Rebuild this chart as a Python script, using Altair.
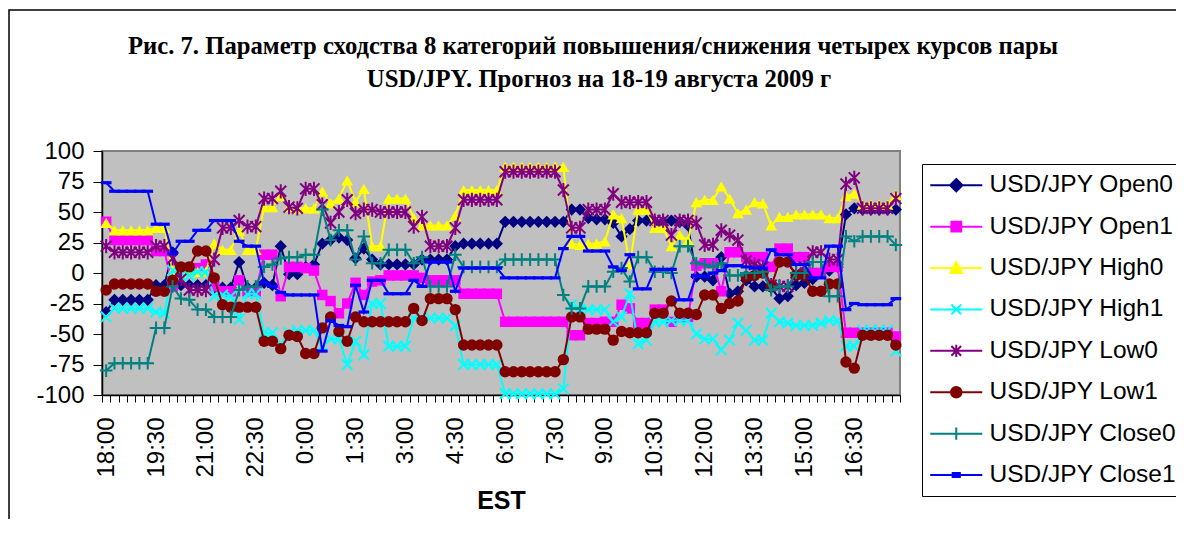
import altair as alt
import pandas as pd

series_names = ["USD/JPY Open0", "USD/JPY Open1", "USD/JPY High0", "USD/JPY High1",
                "USD/JPY Low0", "USD/JPY Low1", "USD/JPY Close0", "USD/JPY Close1"]
colors = ["#000080", "#FF00FF", "#FFFF00", "#00FFFF", "#800080", "#800000", "#008080", "#0000FF"]
tick_labels = ["18:00", "19:30", "21:00", "22:30", "0:00", "1:30", "3:00", "4:30",
               "6:00", "7:30", "9:00", "10:30", "12:00", "13:30", "15:00", "16:30"]
y_ticks = [-100, -75, -50, -25, 0, 25, 50, 75, 100]

open0 = [-32, -22, -22, -22, -22, -22, -10, -10, 17, -10,
         -10, -10, -10, -12, -12, -12, 9, -12, -12, -8,
         -10, 22, -1, -1, 5, 7, 24, 27, 29, 27,
         12, 20, 11, 7, 7, 7, 7, 7, 11, 11,
         11, 11, 22, 24, 24, 24, 24, 24, 42, 42,
         42, 42, 42, 42, 42, 42, 52, 52, 45, 44,
         44, 41, 30, 36, 43, 43, 42, 42, 43, 42,
         39, -3, -3, -6, 13, -17, -15, -6, -11, -11,
         -12, -21, -19, -10, -8, -5, 0, 2, 5, 48,
         53, 52, 52, 52, 52, 52]
open1 = [42, 27, 27, 27, 27, 27, 18, 18, -11, 1,
         0, 4, 7, -11, -15, -15, -6, -15, -15, 15,
         15, -19, 5, 5, 4, 2, -18, -23, -33, -25,
         -8, -18, -7, -6, -2, -2, -2, -2, -4, -6,
         -6, -6, -6, -17, -17, -17, -17, -17, -40, -40,
         -40, -40, -40, -40, -40, -40, -51, -51, -41, -41,
         -40, -40, -26, -29, -41, -41, -30, -30, -40, -36,
         -36, 6, 8, 8, -15, 17, 17, 13, 13, 13,
         5, 20, 20, 13, 13, 0, 0, 5, 5, -49,
         -49, -49, -49, -49, -49, -52]
high0 = [41, 35, 35, 35, 35, 35, 37, 37, 2, 0,
         0, 1, 1, 24, 19, 19, 35, 19, 19, 54,
         54, 63, 54, 53, 53, 53, 67, 57, 61, 76,
         58, 69, 22, 22, 61, 61, 61, 45, 39, 39,
         39, 39, 47, 68, 68, 68, 68, 68, 87, 87,
         87, 87, 87, 87, 87, 87, 24, 23, 24, 24,
         26, 48, 45, 7, 52, 52, 37, 37, 22, 31,
         27, 58, 60, 60, 71, 61, 49, 52, 58, 57,
         39, 46, 46, 48, 48, 48, 48, 45, 45, 63,
         65, 56, 56, 56, 56, 64]
high1 = [-36, -29, -29, -29, -29, -29, -32, -33, 2, -2,
         -2, 1, 1, -19, -18, -19, -38, -17, -17, -49,
         -49, -59, -49, -47, -47, -47, -60, -54, -54, -75,
         -56, -67, -25, -25, -60, -60, -60, -37, -37, -37,
         -37, -37, -43, -75, -75, -75, -75, -75, -99, -99,
         -99, -99, -99, -99, -99, -95, -26, -30, -30, -30,
         -30, -40, -36, -17, -58, -55, -40, -40, -39, -39,
         -39, -50, -54, -54, -63, -55, -41, -47, -55, -55,
         -33, -40, -41, -43, -43, -43, -41, -39, -39, -60,
         -60, -47, -47, -47, -47, -64]
low0 = [22, 17, 17, 17, 17, 17, 22, 22, 12, -5,
        -14, -14, -14, 11, 37, 37, 43, 38, 38, 61,
        61, 67, 54, 53, 69, 69, 56, 41, 50, 60,
        49, 52, 52, 50, 50, 50, 50, 38, 46, 22,
        22, 22, 37, 60, 60, 60, 60, 60, 83, 83,
        83, 83, 83, 83, 83, 68, 37, 37, 52, 52,
        52, 65, 58, 58, 58, 58, 43, 43, 31, 43,
        43, 41, 23, 23, 35, 31, 27, 10, 7, 5,
        -10, -11, -11, 0, 5, 17, 17, 11, 11, 73,
        78, 53, 53, 53, 53, 61]
low1 = [-14, -9, -9, -9, -9, -9, -15, -15, -6, 5,
        5, 18, 18, -4, -26, -28, -28, -28, -28, -56,
        -56, -62, -51, -52, -66, -66, -45, -36, -48, -56,
        -36, -40, -40, -40, -40, -40, -40, -29, -39, -21,
        -21, -21, -30, -59, -59, -59, -59, -59, -81, -81,
        -81, -81, -81, -81, -81, -71, -36, -36, -46, -46,
        -46, -55, -48, -49, -49, -49, -33, -33, -23, -33,
        -33, -34, -18, -18, -29, -25, -23, -3, -2, 0,
        -11, 9, 9, -2, -2, -15, -15, -9, -9, -73,
        -78, -51, -51, -51, -51, -59]
close0 = [-80, -74, -74, -74, -74, -74, -45, -45, -11, -21,
          -22, -30, -30, -36, -36, -36, -14, -11, -11, 5,
          7, 12, 13, 13, 15, 15, 52, 27, 35, 35,
          11, 30, 8, 8, 19, 19, 19, 8, 13, -11,
          -11, -11, 15, 5, 5, 5, 5, 5, 11, 11,
          11, 11, 11, 11, 11, -18, -29, -29, -11, -11,
          -11, 1, 4, -7, 13, 13, 1, 1, 0, 22,
          22, 8, 7, 5, 8, -2, -2, 0, 0, 1,
          -14, -11, -11, 0, 0, 9, 9, -19, -19, 30,
          26, 30, 30, 30, 30, 23]
close1 = [74, 67, 67, 67, 67, 67, 40, 40, 16, 26,
          26, 35, 35, 43, 43, 43, 26, 22, 22, -8,
          -11, -16, -18, -18, -18, -18, -64, -39, -43, -44,
          -10, -32, -6, -6, -17, -17, -17, -6, -11, 9,
          9, 9, -15, 4, 4, 4, 4, 4, -4, -4,
          -4, -4, -4, -4, -4, 20, 30, 30, 18, 18,
          18, 5, 2, 15, -13, -13, 3, 3, 3, -22,
          -22, -2, -3, 0, 2, 6, 6, 5, 4, 4,
          19, 15, 15, 7, 7, -4, -4, 22, 22, -30,
          -25, -26, -26, -26, -26, -21]

values_by_series = [open0, open1, high0, high1, low0, low1, close0, close1]

title_line1 = "Рис. 7. Параметр сходства 8 категорий повышения/снижения четырех курсов пары"
title_line2 = "USD/JPY. Прогноз на 18-19 августа 2009 г"
x_title = "EST"

# marker styles (plot)
markers = [
    dict(shape="diamond", filled=True, size=150, strokeWidth=1),
    dict(shape="square", filled=True, size=110, strokeWidth=1),
    dict(shape="triangle-up", filled=True, size=140, strokeWidth=1),
    dict(shape="M-1,-1L1,1M-1,1L1,-1", filled=False, size=110, strokeWidth=2),
    dict(shape="M-1,-1L1,1M-1,1L1,-1M0,-1.3L0,1.3", filled=False, size=120, strokeWidth=2),
    dict(shape="circle", filled=True, size=130, strokeWidth=1),
    dict(shape="M-1,0L1,0M0,-1L0,1", filled=False, size=160, strokeWidth=2),
    dict(shape="M-1,-0.3L1,-0.3L1,0.3L-1,0.3Z", filled=True, size=115, strokeWidth=1),
]
# legend symbols: line + marker
legend_paths = [
    "M-4,0L4,0M0,-0.95L0.95,0L0,0.95L-0.95,0Z",
    "M-4,0L4,0M-0.75,-0.75L0.75,-0.75L0.75,0.75L-0.75,0.75Z",
    "M-4,0L4,0M0,-0.9L0.9,0.75L-0.9,0.75Z",
    "M-4,0L4,0M-0.75,-0.75L0.75,0.75M-0.75,0.75L0.75,-0.75",
    "M-4,0L4,0M-0.75,-0.75L0.75,0.75M-0.75,0.75L0.75,-0.75M0,-0.95L0,0.95",
    "M-4,0L4,0M-0.8,0A0.8,0.8,0,1,0,0.8,0A0.8,0.8,0,1,0,-0.8,0Z",
    "M-4,0L4,0M0,-0.95L0,0.95",
    "M-4,0L4,0M-0.55,-0.3L0.55,-0.3L0.55,0.3L-0.55,0.3Z",
]

n = len(open0)
boundaries = [i - 0.5 for i in range(n + 1)]
label_js = "[" + ",".join("'" + t + "'" for t in tick_labels) + "]"
x_label_expr = ("((datum.value + 0.5) % 6 == 0 && (datum.value + 0.5) / 6 < " + str(len(tick_labels))
                + ") ? " + label_js + "[(datum.value + 0.5) / 6] : ''")

FONT = "Liberation Sans"

x_axis = alt.Axis(values=boundaries, labelExpr=x_label_expr, labelAngle=-90, labelOffset=4.2,
                  labelFontSize=24, labelFont=FONT, labelColor="black", labelPadding=15,
                  labelOverlap=False, labelFlush=False, labelBound=False,
                  tickSize=7, tickColor="black", domainColor="black", domainWidth=1.5,
                  grid=False, title=x_title, titleFont=FONT, titleFontSize=25,
                  titleFontWeight="bold", titleColor="black", titlePadding=11)
y_axis = alt.Axis(values=y_ticks, labelExpr="datum.value + ''", labelFontSize=24, labelFont=FONT,
                  labelColor="black", labelPadding=9, labelFlush=False, labelOverlap=False,
                  tickSize=9, tickColor="black", domainColor="black", domainWidth=1.5,
                  grid=False, title=None)
x_scale = alt.Scale(domain=[-0.5, n - 0.5], nice=False, zero=False)
y_scale = alt.Scale(domain=[-100, 100], nice=False)

layers = []

# chart area border (top and left edges visible)
border = alt.Chart(pd.DataFrame({"a": [0]})).mark_rect(
    fill=None, stroke="black", strokeWidth=1.5, clip=False
).encode(x=alt.value(-93), y=alt.value(-141), x2=alt.value(3000), y2=alt.value(3000))
layers.append(border)

for line_text, xx, yy in [(title_line1, 491, -104), (title_line2, 497, -71)]:
    layers.append(
        alt.Chart(pd.DataFrame({"t": [line_text]})).mark_text(
            font="Liberation Serif", fontWeight="bold", fontSize=24.7, color="black",
            align="center", baseline="middle"
        ).encode(x=alt.value(xx), y=alt.value(yy), text="t:N")
    )

for name, vals, col, mk in zip(series_names, values_by_series, colors, markers):
    df = pd.DataFrame({"idx": list(range(len(vals))), "value": vals, "series": name})
    base = alt.Chart(df).encode(
        x=alt.X("idx:Q", scale=x_scale, axis=x_axis),
        y=alt.Y("value:Q", scale=y_scale, axis=y_axis),
    )
    layers.append(base.mark_line(color=col, strokeWidth=2))
    layers.append(base.mark_point(shape=mk["shape"], filled=mk["filled"], color=col,
                                  size=mk["size"], strokeWidth=mk["strokeWidth"], opacity=1))

leg = alt.Legend(title=None, orient="none", legendX=820, legendY=13,
                 strokeColor="black", fillColor="white", padding=9,
                 labelFont=FONT, labelFontSize=24.5, labelColor="black", labelLimit=400,
                 rowPadding=16.4, symbolSize=169, symbolStrokeWidth=2,
                 labelOffset=21, symbolOffset=13)
legend_layer = alt.Chart(pd.DataFrame({"series": series_names})).mark_point(
    filled=True, clip=True, size=169, strokeWidth=2, opacity=1
).encode(
    x=alt.value(-60), y=alt.value(-60),
    fill=alt.Fill("series:N", scale=alt.Scale(domain=series_names, range=colors), legend=leg),
    stroke=alt.Stroke("series:N", scale=alt.Scale(domain=series_names, range=colors), legend=leg),
    shape=alt.Shape("series:N", scale=alt.Scale(domain=series_names, range=legend_paths), legend=leg),
)
layers.append(legend_layer)

chart = alt.layer(*layers).properties(
    width=798, height=244,
    autosize=alt.AutoSizeParams(type="none"),
    padding={"left": 94, "top": 143, "right": 276, "bottom": 124},
    background="white",
).configure_view(fill="#C0C0C0", stroke="#808080", strokeWidth=2)

chart.save("out.html", embed_options={"renderer": "svg", "actions": False})
